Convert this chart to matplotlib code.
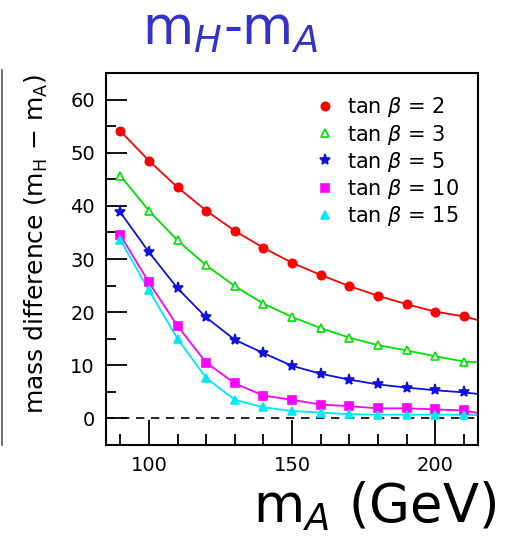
import numpy as np
import matplotlib
matplotlib.use("Agg")
import matplotlib.pyplot as plt
from matplotlib.ticker import MultipleLocator

# m_A grid (GeV) and mass difference m_H - m_A (GeV)
m_A = [90, 100, 110, 120, 130, 140, 150, 160, 170, 180, 190, 200, 210]
tb2 = [54.1, 48.5, 43.5, 39.1, 35.3, 32.1, 29.3, 27.0, 24.9, 23.1, 21.5, 20.1, 19.2]
tb3 = [45.7, 39.1, 33.5, 28.8, 24.9, 21.6, 19.1, 17.0, 15.2, 13.8, 12.8, 11.7, 10.7]
tb5 = [38.8, 31.3, 24.5, 19.0, 14.8, 12.3, 9.9, 8.4, 7.3, 6.4, 5.8, 5.3, 4.9]
tb10 = [34.5, 25.6, 17.4, 10.5, 6.6, 4.3, 3.5, 2.6, 2.3, 1.9, 1.9, 1.7, 1.5]
tb15 = [33.6, 24.1, 15.0, 7.6, 3.5, 2.1, 1.4, 1.1, 0.8, 0.7, 0.7, 0.7, 0.7]
# where each curve leaves the frame at m_A = 215
edge_x = 215
edge_y = [18.5, 10.6, 4.6, 1.0, 0.6]

labels = [r"tan $\beta$ = 2", r"tan $\beta$ = 3", r"tan $\beta$ = 5",
          r"tan $\beta$ = 10", r"tan $\beta$ = 15"]
series = [tb2, tb3, tb5, tb10, tb15]
colours = ["#ff0000", "#00e000", "#1010e0", "#ff00ff", "#00e8f0"]
markers = ["o", "^", "*", "s", "^"]
filled = [True, False, True, True, True]

plt.rcParams["mathtext.fontset"] = "dejavusans"

fig = plt.figure(figsize=(5.07, 5.45), dpi=100)
ax = fig.add_axes([0.209, 0.1835, 0.734, 0.6825])

for y, yend, c, m, f, lab in zip(series, edge_y, colours, markers, filled, labels):
    ax.plot(m_A + [edge_x], y + [yend], color=c, lw=1.3, zorder=2)
    ax.plot(m_A, y, ls="none", marker=m, color=c, ms=6 if m != "*" else 8,
            mfc=c if f else "white", mew=1.2, label=lab, zorder=3)

ax.axhline(0, color="black", ls=(0, (5, 4)), lw=1.2, zorder=1)

ax.set_xlim(85, 215)
ax.set_ylim(-5, 65)
ax.xaxis.set_major_locator(MultipleLocator(50))
ax.xaxis.set_minor_locator(MultipleLocator(10))
ax.yaxis.set_major_locator(MultipleLocator(10))
ax.yaxis.set_minor_locator(MultipleLocator(5))
ax.tick_params(which="both", direction="in", top=False, right=False,
               labelsize=14, width=1.3, pad=8)
ax.tick_params(axis="y", which="major", length=15)
ax.tick_params(axis="y", which="minor", length=7)
ax.tick_params(axis="x", which="major", length=18)
ax.tick_params(axis="x", which="minor", length=8)
for s in ax.spines.values():
    s.set_linewidth(1.5)

ax.set_ylabel(r"mass difference (m$_\mathrm{H}$ $-$ m$_\mathrm{A}$)", fontsize=18)
ax.yaxis.set_label_coords(-0.15, 0.54)

ax.legend(loc="upper right", bbox_to_anchor=(1.0, 0.99), frameon=False,
          fontsize=15, handlelength=0.9, handletextpad=0.6, labelspacing=0.15)

fig.text(0.453, 0.918, r"m$_H$-m$_A$", color="#3333cc", fontsize=38,
         ha="center", va="baseline")
fig.text(0.98, 0.042, r"m$_A$ (GeV)", color="black", fontsize=38,
         ha="right", va="baseline")

# edge of a neighbouring panel on the left
fig.add_artist(plt.Line2D([0.004, 0.004], [0.183, 0.872], color="#555555", lw=1.2))

fig.savefig("out.png", dpi=100)
